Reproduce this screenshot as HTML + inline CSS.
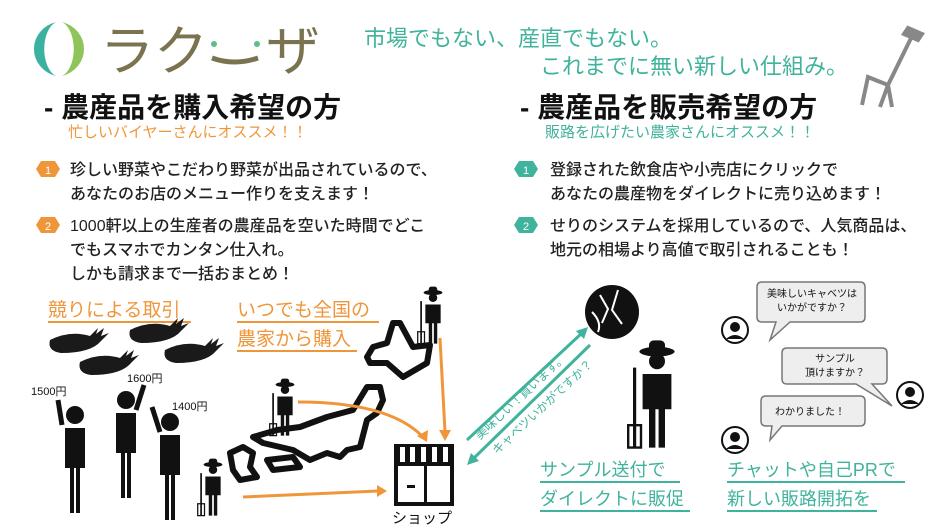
<!DOCTYPE html>
<html><head><meta charset="utf-8"><style>
html,body{margin:0;padding:0;background:#fff;}
svg{display:block;}
text{font-family:"Liberation Sans","Noto Sans CJK JP",sans-serif;}
</style></head><body>
<svg width="940" height="529" viewBox="0 0 940 529" xmlns="http://www.w3.org/2000/svg">
<defs>
<g id="farmer">
<ellipse cx="0" cy="-4" rx="11" ry="3" fill="#111"/><rect x="-5" y="-11" width="10" height="8" rx="3" fill="#111"/>
<circle cx="0" cy="2" r="5" fill="#111"/>
<path d="M-9 10 h18 v22 h-4 v24 h-4 v-24 h-2 v24 h-4 v-24 h-4z" fill="#111"/>
<rect x="-15" y="6" width="2" height="50" fill="#111"/><path d="M-18 42 h8 v14 h-8z" fill="none" stroke="#111" stroke-width="1.5"/>
</g>
<g id="avatar"><circle cx="0" cy="0" r="13" fill="none" stroke="#111" stroke-width="2"/><circle cx="0" cy="-3" r="5" fill="#111"/><path d="M-9 9 q9 -8 18 0z" fill="#111"/></g>
<g id="carrot"><path d="M0 0 q20 -10 40 -4 l8 -8 l-2 6 l8 -6 l-3 8 l8 -3 l-8 8 q-10 12 -40 12 q-14 -2 -11 -13z" fill="#1a1a1a"/></g>
<g id="person"><circle cx="0" cy="0" r="9" fill="#111"/><path d="M-10 13 h20 v40 h-5 v45 h-4 v-45 h-2 v45 h-4 v-45 h-5z" fill="#111"/></g>
</defs>
<!-- logo -->
<path d="M56 22 a30 28 0 0 0 0 54 a16 28 0 0 1 0 -54z" fill="#3bb2a0"/>
<path d="M62 22 a30 28 0 0 1 0 54 a16 28 0 0 0 0 -54z" fill="#8fc45a"/>
<text x="100" y="70" font-size="54" fill="#7a7350">ラク</text>
<path d="M212 58 q22 8 46 0" stroke="#7a7350" stroke-width="5" fill="none"/>
<circle cx="214" cy="44" r="3" fill="#5cbf8a"/><circle cx="257" cy="44" r="3" fill="#5cbf8a"/>
<text x="266" y="70" font-size="54" fill="#7a7350">ザ</text>
<text x="364" y="46" font-size="22" fill="#3fb39b">市場でもない、産直でもない。</text>
<text x="540" y="74" font-size="22" fill="#3fb39b">これまでに無い新しい仕組み。</text>
<!-- pitchfork -->
<g stroke="#888" stroke-width="4" fill="none"><path d="M915 30 L888 85"/><path d="M908 28 l14 6 l-4 6 l-14 -6z" fill="#888"/><path d="M888 85 l-20 -8 l-6 28 M888 85 l-8 22 M888 85 l4 22 M868 77 l12 5"/></g>
<!-- headings -->
<text x="44" y="117" font-size="28" font-weight="bold" fill="#111">- 農産品を購入希望の方</text>
<text x="68" y="137" font-size="15" fill="#f0963a">忙しいバイヤーさんにオススメ！！</text>
<text x="520" y="117" font-size="28" font-weight="bold" fill="#111">- 農産品を販売希望の方</text>
<text x="545" y="137" font-size="15" fill="#3fb39b">販路を広げたい農家さんにオススメ！！</text>
<!-- items -->
<g font-size="16" fill="#222" font-weight="500">
<polygon points="41,161 55,161 60,169 55,177 41,177 36,169" fill="#f0963a"/><text x="48" y="174" font-size="11" fill="#fff" text-anchor="middle">1</text>
<text x="70" y="175">珍しい野菜やこだわり野菜が出品されているので、</text>
<text x="70" y="199">あなたのお店のメニュー作りを支えます！</text>
<polygon points="41,217 55,217 60,225 55,233 41,233 36,225" fill="#f0963a"/><text x="48" y="230" font-size="11" fill="#fff" text-anchor="middle">2</text>
<text x="70" y="231">1000軒以上の生産者の農産品を空いた時間でどこ</text>
<text x="70" y="255">でもスマホでカンタン仕入れ。</text>
<text x="70" y="279">しかも請求まで一括おまとめ！</text>
<polygon points="519,161 533,161 538,169 533,177 519,177 514,169" fill="#3fb39b"/><text x="526" y="174" font-size="11" fill="#fff" text-anchor="middle">1</text>
<text x="550" y="175">登録された飲食店や小売店にクリックで</text>
<text x="550" y="199">あなたの農産物をダイレクトに売り込めます！</text>
<polygon points="519,217 533,217 538,225 533,233 519,233 514,225" fill="#3fb39b"/><text x="526" y="230" font-size="11" fill="#fff" text-anchor="middle">2</text>
<text x="550" y="231">せりのシステムを採用しているので、人気商品は、</text>
<text x="550" y="255">地元の相場より高値で取引されることも！</text>
</g>
<!-- bottom left -->
<g font-size="19" fill="#f0963a">
<text x="48" y="316">競りによる取引</text><rect x="48" y="321" width="143" height="2" fill="#f0963a"/>
<text x="237" y="316">いつでも全国の</text><rect x="237" y="321" width="142" height="2" fill="#f0963a"/>
<text x="237" y="345">農家から購入</text><rect x="237" y="350" width="120" height="2" fill="#f0963a"/>
</g>
<use href="#carrot" x="50" y="340"/><use href="#carrot" x="80" y="362"/><use href="#carrot" x="130" y="330"/><use href="#carrot" x="165" y="350"/>
<g font-size="11" fill="#111"><text x="31" y="395">1500円</text><text x="127" y="382">1600円</text><text x="172" y="410">1400円</text></g>
<use href="#person" x="75" y="415"/><path d="M62 425 l-4 -25" stroke="#111" stroke-width="5"/>
<use href="#person" x="126" y="400"/><path d="M136 410 l8 -25" stroke="#111" stroke-width="5"/>
<use href="#person" x="170" y="422"/><path d="M160 432 l-8 -25" stroke="#111" stroke-width="5"/>
<!-- japan map -->
<g fill="none" stroke="#111" stroke-width="6" stroke-linejoin="round">
<path d="M393 323 L400 323 L413 347 L430 345 L427 363 L403 377 L387 363 L370 363 L367 357 L373 347 L387 343 Z"/>
<path d="M367 387 L380 387 L383 400 L377 413 L367 420 L360 447 L347 450 L340 457 L327 453 L310 460 L293 450 L263 443 L253 437 L277 430 L300 427 L327 417 L353 410 Z"/>
<path d="M230 453 L243 447 L253 453 L250 467 L257 477 L240 480 L233 470 Z"/>
<path d="M267 460 L293 457 L300 467 L273 470 Z"/>
</g>
<g transform="translate(433 296) scale(0.85)"><use href="#farmer"/></g>
<g transform="translate(285 388) scale(0.85)"><use href="#farmer"/></g>
<g transform="translate(213 468) scale(0.85)"><use href="#farmer"/></g>
<g stroke="#f0963a" stroke-width="3" fill="none">
<path d="M440 338 L445 432"/><path d="M298 402 q90 0 124 34"/><path d="M243 497 L378 491"/>
</g>
<g fill="#f0963a"><path d="M439 430 h12 l-6 11z"/><path d="M417 436 l11 -6 l-1 12z"/><path d="M377 485 l10 6 l-10 6z"/></g>
<!-- shop -->
<g fill="#111"><rect x="394" y="444" width="60" height="20"/><rect x="396" y="464" width="56" height="40" fill="none" stroke="#111" stroke-width="4"/><rect x="407" y="485" width="8" height="3"/><rect x="424" y="466" width="3" height="38"/></g>
<g fill="#fff"><rect x="400" y="447" width="5" height="15"/><rect x="410" y="447" width="5" height="15"/><rect x="421" y="447" width="5" height="15"/><rect x="432" y="447" width="5" height="15"/><rect x="443" y="447" width="5" height="15"/></g>
<text x="392" y="523" font-size="15" fill="#111">ショップ</text>
<!-- teal arrows -->
<g stroke="#3fb39b" stroke-width="3"><path d="M467 440 L582 333"/><path d="M590 345 L474 458"/></g>
<g fill="#3fb39b"><path d="M588 327 l-4 12 l-8 -8z"/><path d="M467 465 l4 -12 l8 8z"/></g>
<text font-size="12" fill="#3fb39b" transform="translate(480 440) rotate(-43)">美味しい！買います。</text>
<text font-size="12" fill="#3fb39b" transform="translate(497 455) rotate(-43)">キャベツいかがですか？</text>
<!-- cabbage & farmer -->
<circle cx="612" cy="312" r="27" fill="#111"/><path d="M600 295 l8 14 l-6 14 M618 290 l-6 20 l10 14 M592 312 q10 10 6 20" stroke="#fff" stroke-width="2" fill="none"/>
<g transform="translate(657 358) scale(1.6)"><use href="#farmer"/></g>
<!-- bubbles -->
<g fill="#eee" stroke="#777" stroke-width="1.5">
<path d="M762 282 h98 q5 0 5 5 v30 q0 5 -5 5 h-70 l-20 18 l6 -18 h-14 q-5 0 -5 -5 v-30 q0 -5 5 -5z"/>
<path d="M787 348 h95 q5 0 5 5 v26 q0 5 -5 5 h-10 l20 22 l-36 -22 h-69 q-5 0 -5 -5 v-26 q0 -5 5 -5z"/>
<path d="M766 396 h94 q5 0 5 5 v20 q0 5 -5 5 h-78 l-12 14 l2 -14 h-6 q-5 0 -5 -5 v-20 q0 -5 5 -5z"/>
</g>
<g font-size="10" fill="#111" text-anchor="middle">
<text x="812" y="297">美味しいキャベツは</text><text x="812" y="311">いかがですか？</text>
<text x="835" y="362">サンプル</text><text x="835" y="376">頂けますか？</text>
<text x="810" y="415">わかりました！</text>
</g>
<use href="#avatar" x="735" y="330"/><use href="#avatar" x="910" y="395"/><use href="#avatar" x="735" y="440"/>
<g font-size="18" fill="#3fb39b">
<text x="540" y="476">サンプル送付で</text><rect x="540" y="481" width="140" height="2" fill="#3fb39b"/>
<text x="540" y="505">ダイレクトに販促</text><rect x="540" y="510" width="150" height="2" fill="#3fb39b"/>
<text x="727" y="476">チャットや自己PRで</text><rect x="727" y="481" width="178" height="2" fill="#3fb39b"/>
<text x="727" y="505">新しい販路開拓を</text><rect x="727" y="510" width="150" height="2" fill="#3fb39b"/>
</g>
</svg>
</body></html>
